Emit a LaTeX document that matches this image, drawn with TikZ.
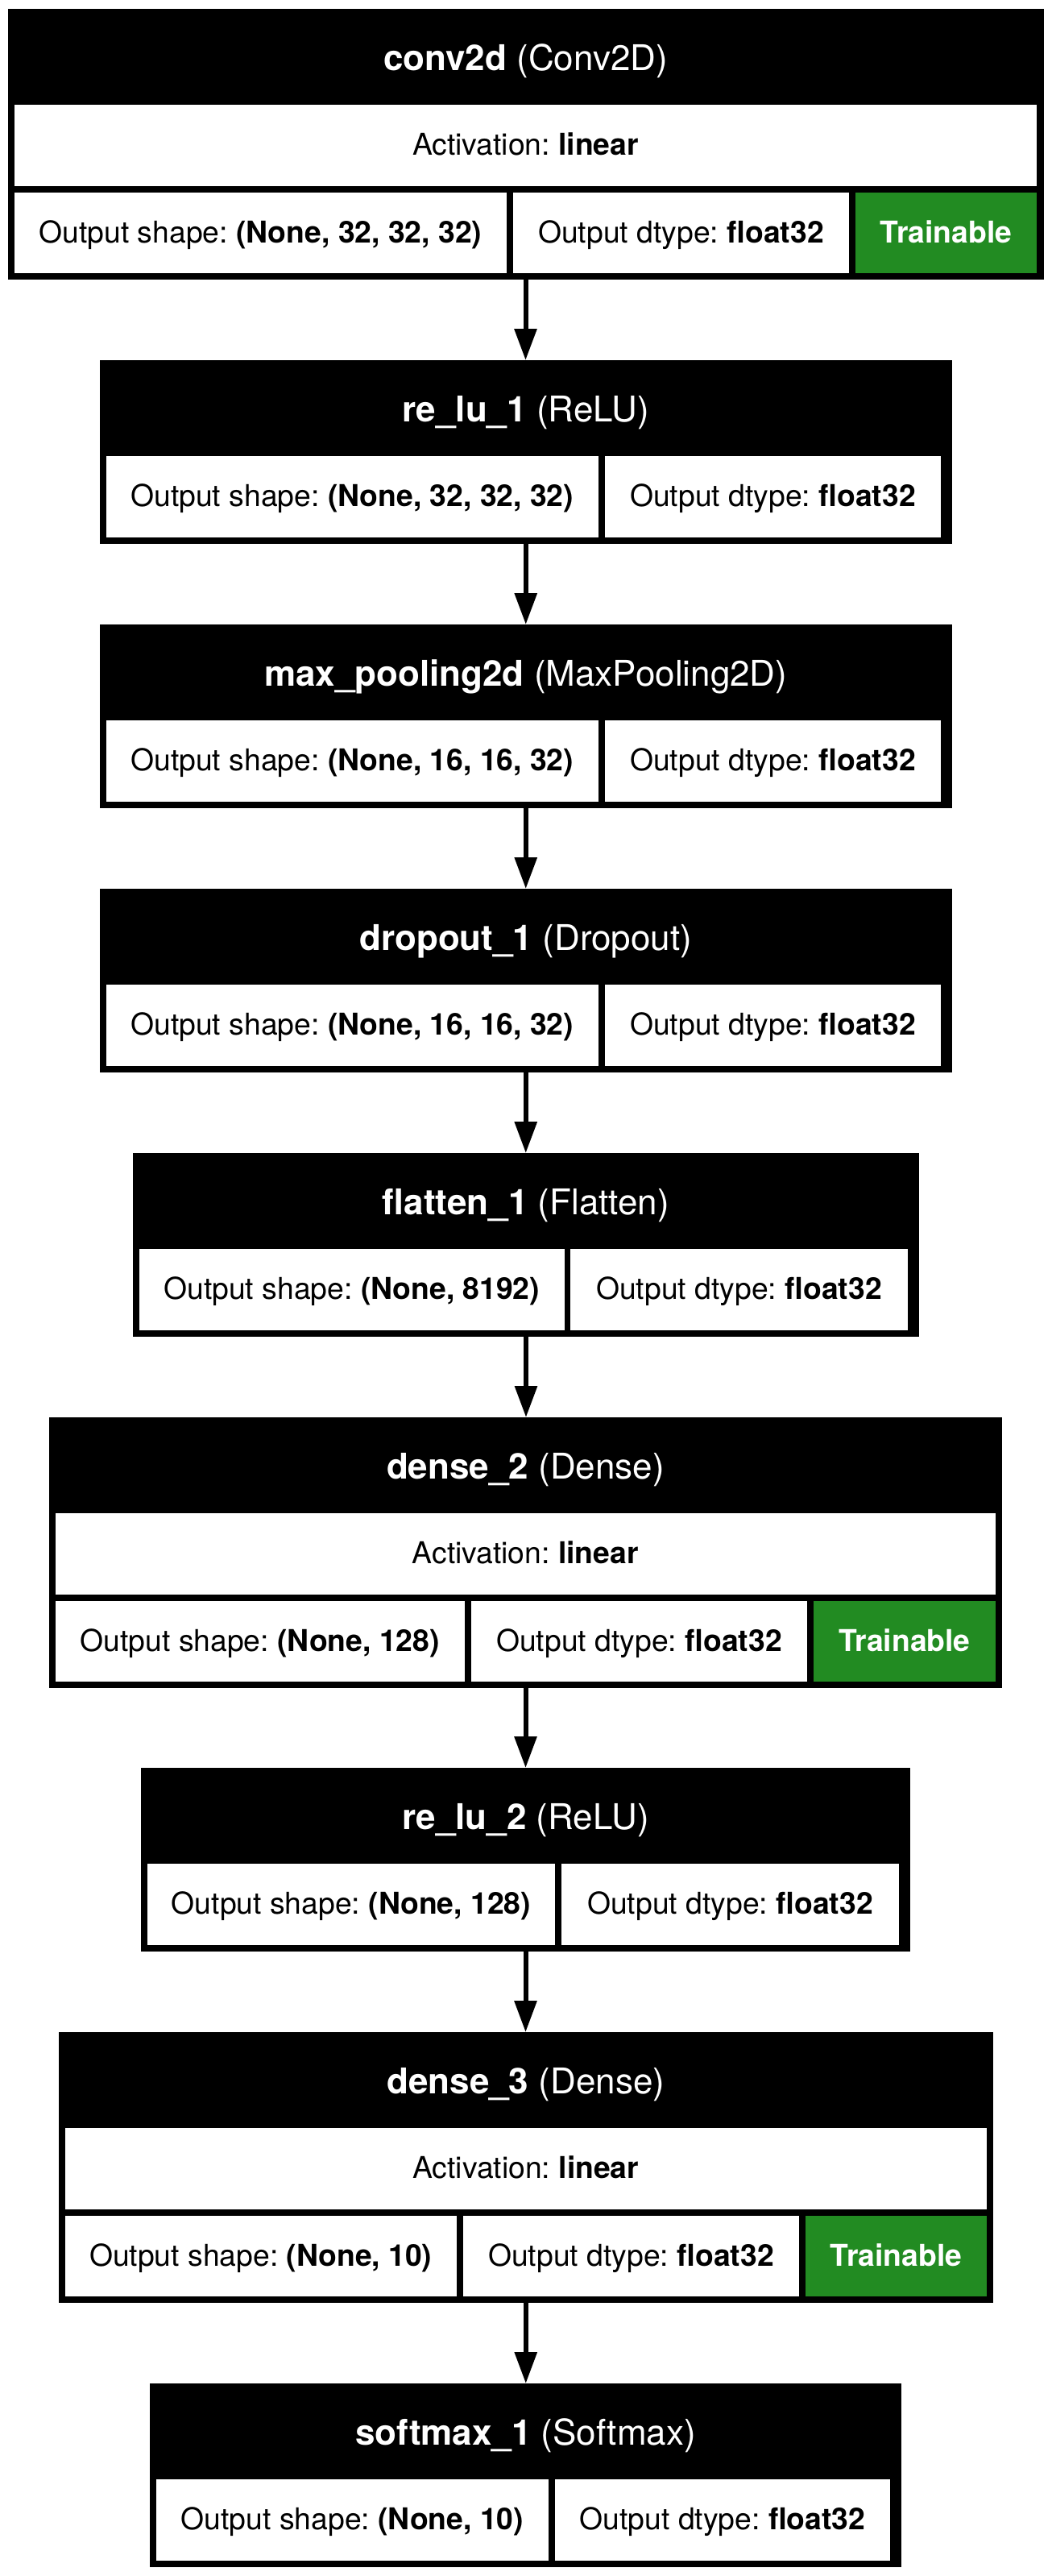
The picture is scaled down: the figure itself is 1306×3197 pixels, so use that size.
\documentclass[tikz,border=0pt]{standalone}
\usepackage{fontspec}
\setmainfont{TeX Gyre Heros}
\frenchspacing
\usetikzlibrary{fit,arrows.meta}
\definecolor{trgreen}{HTML}{228B22}
\begin{document}
\begin{tikzpicture}[x=1pt,y=-1pt,
  font=\fontsize{37.3}{44}\selectfont,
  outerbox/.style={inner sep=0pt,outer sep=0pt,fill=black,draw=none},
  hdrcell/.style={inner sep=0pt,outer sep=0pt,draw=none},
  wcell/.style={inner sep=0pt,outer sep=0pt,fill=white,draw=none},
  gcell/.style={inner sep=0pt,outer sep=0pt,fill=trgreen,draw=none},
  htxt/.style={anchor=base,inner sep=0pt,text=white,font=\fontsize{44}{52}\selectfont},
  ctxt/.style={anchor=base,inner sep=0pt,text=black},
  gtxt/.style={anchor=base,inner sep=0pt,text=white,font=\fontsize{37.3}{44}\selectfont\bfseries},
  hpos/.style={yshift=-76.5pt},
  cpos/.style={yshift=-62pt},
  conn/.style={line width=6pt,-{Triangle[length=39pt,width=27pt]}}
]
\useasboundingbox[fill=white] (0,0) rectangle (1306,3197);

% conv2d
\node[outerbox,fit={(9.5,11) (1295.5,347)}] (b1) {};
\node[hdrcell,fit={(9.5,11) (1295.5,130)}] (b1h) {};
\node[wcell,fit={(18,130) (1287,231)}] (b1a) {};
\node[wcell,fit={(18,239) (629,339)}] (b1s) {};
\node[wcell,fit={(637,239) (1054,339)}] (b1d) {};
\node[gcell,fit={(1062,239) (1287,339)}] (b1t) {};
\node[htxt] (b1ht) at ([hpos]b1h.north) {\textbf{conv2d} (Conv2D)};
\node[ctxt] (b1at) at ([cpos]b1a.north) {Activation: \textbf{linear}};
\node[ctxt] (b1st) at ([cpos]b1s.north) {Output shape: \textbf{(None, 32, 32, 32)}};
\node[ctxt] (b1dt) at ([cpos]b1d.north) {Output dtype: \textbf{float32}};
\node[gtxt] (b1tt) at ([cpos]b1t.north) {Trainable};

% re_lu_1
\node[outerbox,fit={(123.5,447) (1182,675)}] (b2) {};
\node[hdrcell,fit={(123.5,447) (1182,566)}] (b2h) {};
\node[wcell,fit={(131.5,566) (743,667)}] (b2s) {};
\node[wcell,fit={(751,566) (1168,667)}] (b2d) {};
\node[htxt] (b2ht) at ([hpos]b2h.north) {\textbf{re\_lu\_1} (ReLU)};
\node[ctxt] (b2st) at ([cpos]b2s.north) {Output shape: \textbf{(None, 32, 32, 32)}};
\node[ctxt] (b2dt) at ([cpos]b2d.north) {Output dtype: \textbf{float32}};

% max_pooling2d
\node[outerbox,fit={(123.5,775) (1182,1003)}] (b3) {};
\node[hdrcell,fit={(123.5,775) (1182,894)}] (b3h) {};
\node[wcell,fit={(131.5,894) (743,995)}] (b3s) {};
\node[wcell,fit={(751,894) (1168,995)}] (b3d) {};
\node[htxt] (b3ht) at ([hpos]b3h.north) {\textbf{max\_pooling2d} (MaxPooling2D)};
\node[ctxt] (b3st) at ([cpos]b3s.north) {Output shape: \textbf{(None, 16, 16, 32)}};
\node[ctxt] (b3dt) at ([cpos]b3d.north) {Output dtype: \textbf{float32}};

% dropout_1
\node[outerbox,fit={(123.5,1103) (1182,1331)}] (b4) {};
\node[hdrcell,fit={(123.5,1103) (1182,1222)}] (b4h) {};
\node[wcell,fit={(131.5,1222) (743,1323)}] (b4s) {};
\node[wcell,fit={(751,1222) (1168,1323)}] (b4d) {};
\node[htxt] (b4ht) at ([hpos]b4h.north) {\textbf{dropout\_1} (Dropout)};
\node[ctxt] (b4st) at ([cpos]b4s.north) {Output shape: \textbf{(None, 16, 16, 32)}};
\node[ctxt] (b4dt) at ([cpos]b4d.north) {Output dtype: \textbf{float32}};

% flatten_1
\node[outerbox,fit={(165,1431) (1141,1659)}] (b5) {};
\node[hdrcell,fit={(165,1431) (1141,1550)}] (b5h) {};
\node[wcell,fit={(172.5,1550) (701,1651)}] (b5s) {};
\node[wcell,fit={(708,1550) (1127,1651)}] (b5d) {};
\node[htxt] (b5ht) at ([hpos]b5h.north) {\textbf{flatten\_1} (Flatten)};
\node[ctxt] (b5st) at ([cpos]b5s.north) {Output shape: \textbf{(None, 8192)}};
\node[ctxt] (b5dt) at ([cpos]b5d.north) {Output dtype: \textbf{float32}};

% dense_2
\node[outerbox,fit={(61,1759) (1244,2095)}] (b6) {};
\node[hdrcell,fit={(61,1759) (1244,1878)}] (b6h) {};
\node[wcell,fit={(68.5,1878) (1236,1979)}] (b6a) {};
\node[wcell,fit={(68.5,1987) (577,2087)}] (b6s) {};
\node[wcell,fit={(585,1987) (1002,2087)}] (b6d) {};
\node[gcell,fit={(1010,1987) (1236,2087)}] (b6t) {};
\node[htxt] (b6ht) at ([hpos]b6h.north) {\textbf{dense\_2} (Dense)};
\node[ctxt] (b6at) at ([cpos]b6a.north) {Activation: \textbf{linear}};
\node[ctxt] (b6st) at ([cpos]b6s.north) {Output shape: \textbf{(None, 128)}};
\node[ctxt] (b6dt) at ([cpos]b6d.north) {Output dtype: \textbf{float32}};
\node[gtxt] (b6tt) at ([cpos]b6t.north) {Trainable};

% re_lu_2
\node[outerbox,fit={(175,2194) (1130,2422)}] (b7) {};
\node[hdrcell,fit={(175,2194) (1130,2313)}] (b7h) {};
\node[wcell,fit={(183,2313) (689,2414)}] (b7s) {};
\node[wcell,fit={(697,2313) (1116,2414)}] (b7d) {};
\node[htxt] (b7ht) at ([hpos]b7h.north) {\textbf{re\_lu\_2} (ReLU)};
\node[ctxt] (b7st) at ([cpos]b7s.north) {Output shape: \textbf{(None, 128)}};
\node[ctxt] (b7dt) at ([cpos]b7d.north) {Output dtype: \textbf{float32}};

% dense_3
\node[outerbox,fit={(72.5,2522) (1233,2858)}] (b8) {};
\node[hdrcell,fit={(72.5,2522) (1233,2641)}] (b8h) {};
\node[wcell,fit={(80.5,2641) (1225,2742)}] (b8a) {};
\node[wcell,fit={(80.5,2750) (567,2850)}] (b8s) {};
\node[wcell,fit={(575,2750) (992,2850)}] (b8d) {};
\node[gcell,fit={(1000,2750) (1225,2850)}] (b8t) {};
\node[htxt] (b8ht) at ([hpos]b8h.north) {\textbf{dense\_3} (Dense)};
\node[ctxt] (b8at) at ([cpos]b8a.north) {Activation: \textbf{linear}};
\node[ctxt] (b8st) at ([cpos]b8s.north) {Output shape: \textbf{(None, 10)}};
\node[ctxt] (b8dt) at ([cpos]b8d.north) {Output dtype: \textbf{float32}};
\node[gtxt] (b8tt) at ([cpos]b8t.north) {Trainable};

% softmax_1
\node[outerbox,fit={(186,2958) (1119,3186)}] (b9) {};
\node[hdrcell,fit={(186,2958) (1119,3077)}] (b9h) {};
\node[wcell,fit={(194,3077) (681,3178)}] (b9s) {};
\node[wcell,fit={(689,3077) (1105,3178)}] (b9d) {};
\node[htxt] (b9ht) at ([hpos]b9h.north) {\textbf{softmax\_1} (Softmax)};
\node[ctxt] (b9st) at ([cpos]b9s.north) {Output shape: \textbf{(None, 10)}};
\node[ctxt] (b9dt) at ([cpos]b9d.north) {Output dtype: \textbf{float32}};

% connectors
\draw[conn] (b1.south) -- (b1.south |- b2.north);
\draw[conn] (b2.south) -- (b2.south |- b3.north);
\draw[conn] (b3.south) -- (b3.south |- b4.north);
\draw[conn] (b4.south) -- (b4.south |- b5.north);
\draw[conn] (b5.south) -- (b5.south |- b6.north);
\draw[conn] (b6.south) -- (b6.south |- b7.north);
\draw[conn] (b7.south) -- (b7.south |- b8.north);
\draw[conn] (b8.south) -- (b8.south |- b9.north);
\end{tikzpicture}
\end{document}
